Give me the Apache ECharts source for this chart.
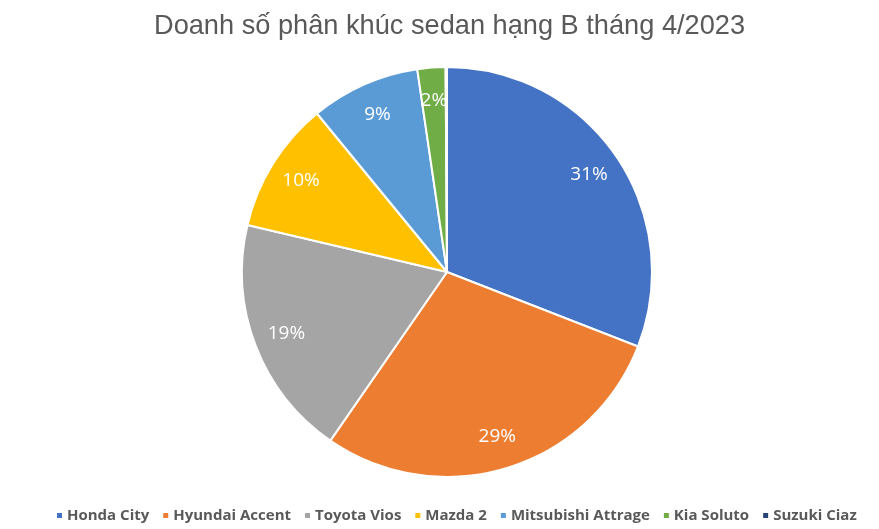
<!DOCTYPE html>
<html lang="vi">
  <head>
    <meta charset="UTF-8" />
    <title>Doanh số phân khúc sedan hạng B tháng 4/2023</title>
    <script src="https://cdn.jsdelivr.net/npm/echarts@6/dist/echarts.min.js"></script>
    <style>
      html, body { margin: 0; padding: 0; background: #fff; }
    </style>
  </head>
  <body>
    <div id="main" style="width: 879px; height: 529px"></div>

    <script>
      const myEchart = echarts.init(document.getElementById("main"));

      // doanh số (ước lượng từ tỉ lệ trên biểu đồ)
      var models = ["Honda City", "Hyundai Accent", "Toyota Vios", "Mazda 2", "Mitsubishi Attrage", "Kia Soluto", "Suzuki Ciaz"];
      var sales = [560, 520, 345, 188, 156, 40, 2];
      var colors = ["#4472C4", "#ED7D31", "#A5A5A5", "#FFC000", "#5B9BD5", "#70AD47", "#264478"];

      var total = sales.reduce((a, b) => a + b, 0);
      var pieData = models.map((name, i) => ({
        name: name,
        value: sales[i],
        itemStyle: { color: colors[i] },
      }));

      var options = {
        backgroundColor: "#fff",
        title: {
          text: "Doanh số phân khúc sedan hạng B tháng 4/2023",
          left: 149,
          top: 8,
          textStyle: {
            fontFamily: "Liberation Sans",
            fontSize: 27.2,
            fontWeight: "normal",
            color: "#595959",
          },
        },
        legend: {
          bottom: 1,
          left: 50,
          icon: "rect",
          itemWidth: 7,
          itemHeight: 7,
          itemGap: 12,
          data: models.map((name, i) => ({ name: name, itemStyle: { color: colors[i] } })),
          textStyle: {
            fontFamily: "Open Sans",
            fontSize: 15,
            fontWeight: "bold",
            color: "#595959",
            padding: [0, 0, 0, -1],
          },
        },
        series: [
          {
            type: "pie",
            center: [447, 272],
            radius: [0, 205],
            startAngle: 90,
            clockwise: true,
            silent: true,
            label: { show: false },
            labelLine: { show: false },
            itemStyle: { borderColor: "#fff", borderWidth: 2 },
            data: pieData,
          },
          {
            // chỉ dùng để đặt nhãn % gần mép ngoài
            type: "pie",
            center: [447, 272],
            radius: [0, 338],
            startAngle: 90,
            clockwise: true,
            silent: true,
            itemStyle: { color: "rgba(0,0,0,0)" },
            label: {
              show: true,
              position: "inside",
              fontFamily: "Open Sans",
              fontSize: 19,
              color: "#fff",
              formatter: (p) => {
                var pct = Math.round((p.value / total) * 100);
                return pct > 0 ? pct + "%" : "";
              },
            },
            labelLine: { show: false },
            data: models.map((name, i) => ({ name: name, value: sales[i] })),
          },
        ],
      };

      myEchart.setOption(options);
    </script>
  </body>
</html>
